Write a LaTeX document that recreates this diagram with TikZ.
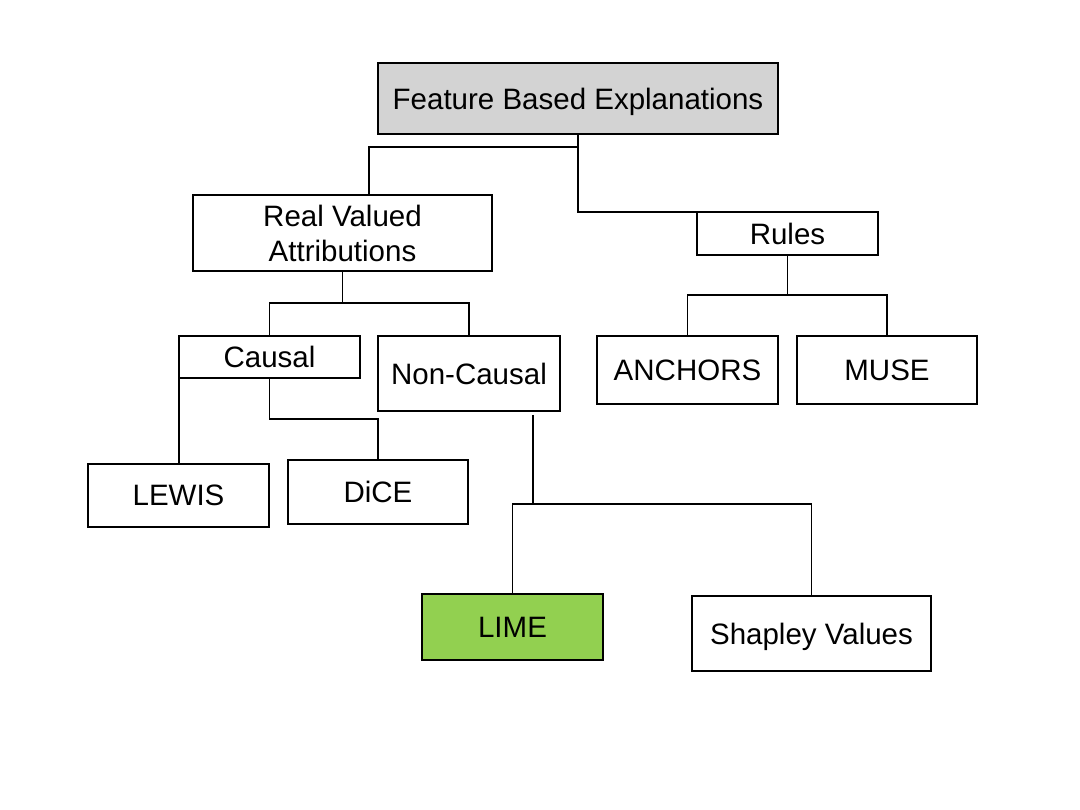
\documentclass[tikz,border=0pt]{standalone}
\usepackage{fontspec}
\setmainfont{Liberation Sans}
\usepackage{xcolor}
\usetikzlibrary{positioning}

\definecolor{boxgray}{RGB}{211,211,211}
\definecolor{limegreen}{RGB}{146,208,80}

\tikzset{
  box/.style={draw, line width=1.6pt, rectangle, inner sep=0pt, outer sep=0pt,
    align=center, text depth=0pt, font=\fontsize{29.5}{35}\selectfont},
  link/.style={line width=1.5pt}
}

\begin{document}
\begin{tikzpicture}[x=1pt, y=-1pt]
  \useasboundingbox (0,0) rectangle (1080,810);

  % Kotak
  \node[box, fill=boxgray, minimum width=400pt, minimum height=71pt] (fbe) at (578,98.5) {Feature Based Explanations};
  \node[box, minimum width=299pt, minimum height=76pt] (rva) at (342.5,233) {Real Valued\\Attributions};
  \node[box, minimum width=181pt, minimum height=43pt] (rules) at (787.5,233.5) {Rules};
  \node[box, minimum width=181pt, minimum height=42pt] (causal) at (269.5,357) {Causal};
  \node[box, minimum width=182pt, minimum height=75pt] (noncausal) at (469,373.5) {Non-Causal};
  \node[box, minimum width=181pt, minimum height=68pt] (anchors) at (687.5,370) {ANCHORS};
  \node[box, minimum width=180pt, minimum height=68pt] (muse) at (887,370) {MUSE};
  \node[box, minimum width=181pt, minimum height=63pt] (lewis) at (178.5,495.5) {LEWIS};
  \node[box, minimum width=180pt, minimum height=64pt] (dice) at (378,492) {DiCE};
  \node[box, fill=limegreen, minimum width=181pt, minimum height=66pt] (lime) at (512.5,627) {LIME};
  \node[box, minimum width=239pt, minimum height=75pt] (shapley) at (811.5,633.5) {Shapley Values};

  % Titik cabang
  \coordinate (rvasplit) at ([yshift=-32pt]rva.south);
  \coordinate (rulessplit) at ([yshift=-40pt]rules.south);
  \coordinate (ncsplit) at ([xshift=64pt,yshift=-93pt]noncausal.south);

  % Garis
  \draw[link] (fbe.south) -- ++(0,13) -| ([xshift=26.5pt]rva.north);
  \draw[link] (fbe.south) |- (rules.north west);
  \draw[link] (rva.south) -- (rvasplit);
  \draw[link] (causal.north) |- (noncausal.north |- rvasplit) -- (noncausal.north);
  \draw[link] (rules.south) -- (rulessplit);
  \draw[link] (anchors.north) |- (muse.north |- rulessplit) -- (muse.north);
  \draw[link] (causal.south west) -- (causal.south west |- lewis.north);
  \draw[link] (causal.south) -- ++(0,41) -| (dice.north);
  \draw[link] ([xshift=64pt,yshift=-4pt]noncausal.south) -- (ncsplit);
  \draw[link] (lime.north) |- (shapley.north |- ncsplit) -- (shapley.north);
\end{tikzpicture}
\end{document}
